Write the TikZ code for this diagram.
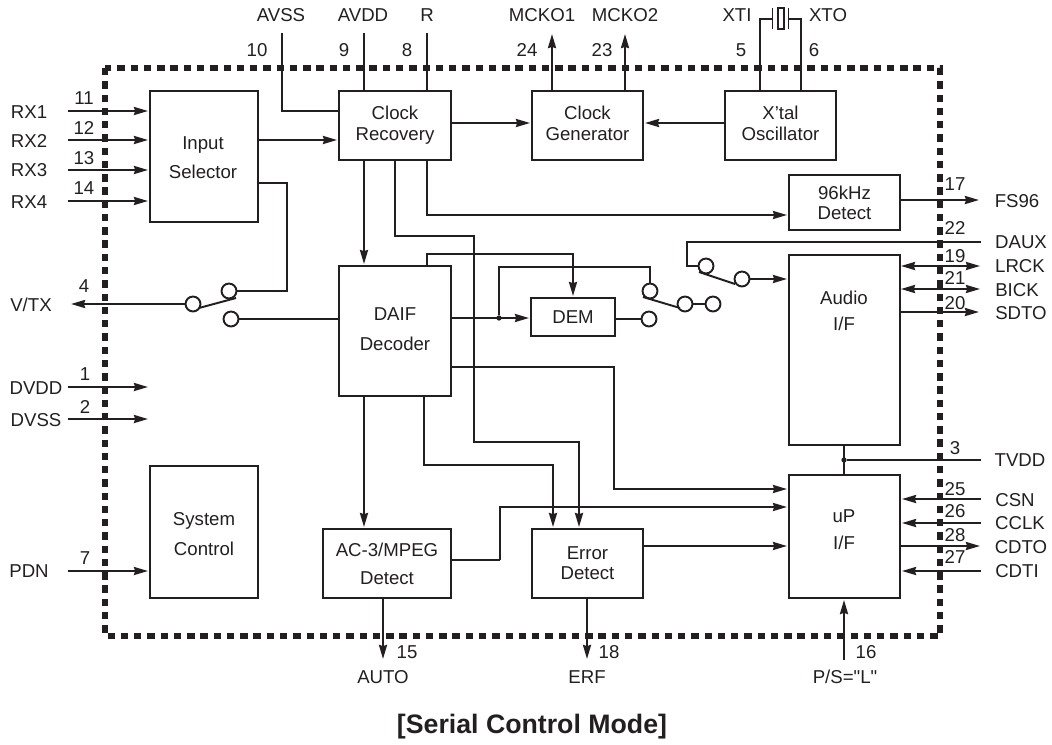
\documentclass[tikz,border=0pt]{standalone}
\usepackage{fontspec}
\setmainfont[Ligatures=TeXOff]{Liberation Sans}
\usetikzlibrary{arrows.meta}
\pgfdeclarelayer{edgelayer}
\pgfdeclarelayer{nodelayer}
\pgfsetlayers{edgelayer,nodelayer,main}
\definecolor{ink}{HTML}{231F20}
\tikzstyle{block}=[rectangle,draw=ink,text=ink,line width=1.1pt,inner sep=0pt,align=center,font=\fontsize{10.6}{11.4}\selectfont]
\tikzstyle{blocktext}=[text=ink,inner sep=0pt,align=center,font=\fontsize{10.6}{11.4}\selectfont]
\tikzstyle{contact}=[circle,draw=ink,line width=1.1pt,minimum size=8.5pt,inner sep=0pt]
\tikzstyle{junction}=[circle,fill=ink,minimum size=3pt,inner sep=0pt]
\tikzstyle{pinname}=[text=ink,inner sep=0pt,text height=7.6pt,text depth=0pt,font=\fontsize{10.6}{12}\selectfont]
\tikzstyle{simple}=[-,draw=ink,line width=1.1pt]
\tikzstyle{arrowed}=[simple,-{Stealth[length=8pt,width=4.6pt,inset=0.7pt]},shorten >=0.6pt]
\tikzstyle{both}=[simple,{Stealth[length=8pt,width=4.6pt,inset=0.7pt]}-{Stealth[length=8pt,width=4.6pt,inset=0.7pt]}]
\tikzstyle{frame}=[draw=ink,line width=2.9pt,dash pattern=on 4.2pt off 3.35pt]

\begin{document}
\begin{tikzpicture}[x=0.2mm,y=-0.2mm]
	\useasboundingbox (0, 0) rectangle (1052, 744);
	\begin{pgfonlayer}{nodelayer}
		\node [style=block, minimum width=21.6mm, minimum height=26.2mm] (selector) at (204, 156.5) {};
		\node [style=blocktext] (selectortext) at (203, 158) {Input\\[5pt]Selector};
		\node [style=block, minimum width=22.4mm, minimum height=13.8mm] (recovery) at (395, 125.5) {Clock\\[0.6pt]Recovery};
		\node [style=block, minimum width=22.2mm, minimum height=13.8mm] (generator) at (587.5, 125.5) {Clock\\[0.6pt]Generator\vphantom{y}};
		\node [style=block, minimum width=22.2mm, minimum height=13.8mm] (xtal) at (780.5, 125.5) {X’tal\\[0.6pt]Oscillator\vphantom{y}};
		\node [style=block, minimum width=22.2mm, minimum height=11mm] (detectfs) at (844.5, 202.5) {96kHz\\Detect};
		\node [style=block, minimum width=22.2mm, minimum height=38mm] (audio) at (844.5, 350) {};
		\node [style=blocktext] (audiotext) at (844, 311) {Audio\\[3.4pt]I/F};
		\node [style=block, minimum width=22.2mm, minimum height=24.6mm] (micro) at (844.5, 536.5) {};
		\node [style=blocktext] (microtext) at (844, 530) {uP\\[4pt]I/F};
		\node [style=block, minimum width=22.4mm, minimum height=26mm] (daif) at (395, 331) {DAIF\\[6.2pt]Decoder\vphantom{y}};
		\node [style=block, minimum width=16.8mm, minimum height=7.6mm] (dem) at (573, 317) {DEM};
		\node [style=block, minimum width=25.6mm, minimum height=13.8mm] (mpeg) at (387, 563.5) {AC-3/MPEG\\[4.5pt]Detect};
		\node [style=block, minimum width=22.2mm, minimum height=13.8mm] (error) at (587.5, 563.5) {Error\\Detect};
		\node [style=block, minimum width=21.6mm, minimum height=26.4mm] (control) at (204, 532) {};
		\node [style=blocktext] (controltext) at (204, 534) {System\\[5.6pt]Control};
		\node [style=contact] (vtxa) at (229, 291) {};
		\node [style=contact] (vtxb) at (193, 304) {};
		\node [style=contact] (vtxc) at (231, 319) {};
		\node [style=contact] (dema) at (650, 291) {};
		\node [style=contact] (demb) at (685, 304) {};
		\node [style=contact] (demc) at (649, 319) {};
		\node [style=contact] (demd) at (713, 304) {};
		\node [style=contact] (auxa) at (706, 266) {};
		\node [style=contact] (auxb) at (742, 279) {};
		\node [style=junction] (tap) at (499, 318) {};
		\node [style=junction] (tvddtap) at (844, 460) {};
		\node [draw=ink, line width=0.9pt, minimum width=1.2mm, minimum height=4.2mm, inner sep=0pt] (crystal) at (781, 18.5) {};
		\node [style=pinname] (tavss) at (281, 15) {AVSS};
		\node [style=pinname] (tavdd) at (363, 15) {AVDD};
		\node [style=pinname] (tr) at (427, 15) {R};
		\node [style=pinname] (tmcko1) at (542, 15) {MCKO1};
		\node [style=pinname] (tmcko2) at (625, 15) {MCKO2};
		\node [style=pinname] (txti) at (737, 15) {XTI};
		\node [style=pinname] (txto) at (828, 15) {XTO};
		\node [style=pinname] (n10) at (257, 50) {10};
		\node [style=pinname] (n9) at (344, 50) {9};
		\node [style=pinname] (n8) at (407, 50) {8};
		\node [style=pinname] (n24) at (527, 50) {24};
		\node [style=pinname] (n23) at (602, 50) {23};
		\node [style=pinname] (n5) at (741, 50) {5};
		\node [style=pinname] (n6) at (814, 50) {6};
		\node [style=pinname] (trx1) at (29, 112) {RX1};
		\node [style=pinname] (trx2) at (29, 141) {RX2};
		\node [style=pinname] (trx3) at (29, 170) {RX3};
		\node [style=pinname] (trx4) at (29, 202) {RX4};
		\node [style=pinname] (n11) at (84, 98) {11};
		\node [style=pinname] (n12) at (84, 128) {12};
		\node [style=pinname] (n13) at (84, 158) {13};
		\node [style=pinname] (n14) at (84, 188) {14};
		\node [style=pinname] (tvtx) at (31, 305) {V/TX};
		\node [style=pinname] (n4) at (84, 286) {4};
		\node [style=pinname] (tdvdd) at (36, 388) {DVDD};
		\node [style=pinname] (tdvss) at (36, 420) {DVSS};
		\node [style=pinname] (n1) at (85, 374) {1};
		\node [style=pinname] (n2) at (85, 407) {2};
		\node [style=pinname] (tpdn) at (29, 571) {PDN};
		\node [style=pinname] (n7) at (85, 558) {7};
		\node [style=pinname] (tfs96) at (1017, 201) {FS96};
		\node [style=pinname] (tdaux) at (1021, 242) {DAUX};
		\node [style=pinname] (tlrck) at (1020, 266) {LRCK};
		\node [style=pinname] (tbick) at (1017, 290) {BICK};
		\node [style=pinname] (tsdto) at (1021, 313) {SDTO};
		\node [style=pinname] (ttvdd) at (1020, 460) {TVDD};
		\node [style=pinname] (tcsn) at (1015, 500) {CSN};
		\node [style=pinname] (tcclk) at (1020, 523) {CCLK};
		\node [style=pinname] (tcdto) at (1021, 547) {CDTO};
		\node [style=pinname] (tcdti) at (1017, 571) {CDTI};
		\node [style=pinname] (n17) at (955, 184) {17};
		\node [style=pinname] (n22) at (955, 228) {22};
		\node [style=pinname] (n19) at (955, 256) {19};
		\node [style=pinname] (n21) at (955, 278) {21};
		\node [style=pinname] (n20) at (955, 303) {20};
		\node [style=pinname] (n3) at (955, 448) {3};
		\node [style=pinname] (n25) at (955, 489) {25};
		\node [style=pinname] (n26) at (955, 511) {26};
		\node [style=pinname] (n28) at (955, 535) {28};
		\node [style=pinname] (n27) at (955, 557) {27};
		\node [style=pinname] (tauto) at (383, 677) {AUTO};
		\node [style=pinname] (terf) at (587, 677) {ERF};
		\node [style=pinname] (tps) at (845, 677) {P/S="L"};
		\node [style=pinname] (n15) at (407, 652) {15};
		\node [style=pinname] (n18) at (609, 652) {18};
		\node [style=pinname] (n16) at (866, 652) {16};
		\node [text=ink, inner sep=0pt, font=\fontsize{15.2}{18}\selectfont\bfseries] (title) at (532, 727) {[Serial Control Mode]};
		\coordinate (avss) at (282, 33);
		\coordinate (avssbend) at (282, 111);
		\coordinate (avdd) at (364, 33);
		\coordinate (rpin) at (427, 33);
		\coordinate (mcko1) at (552, 33);
		\coordinate (mcko2) at (625, 33);
		\coordinate (xti) at (760, 19);
		\coordinate (xto) at (801, 19);
		\coordinate (rx1) at (68, 111);
		\coordinate (rx2) at (68, 140);
		\coordinate (rx3) at (68, 170);
		\coordinate (rx4) at (68, 201);
		\coordinate (vtx) at (70, 304);
		\coordinate (dvdd) at (68, 387);
		\coordinate (dvss) at (68, 419);
		\coordinate (pdn) at (68, 571);
		\coordinate (fs96) at (980, 200);
		\coordinate (daux) at (981, 242);
		\coordinate (lrck) at (980, 266);
		\coordinate (bick) at (980, 289);
		\coordinate (sdto) at (980, 312);
		\coordinate (tvdd) at (981, 460);
		\coordinate (csn) at (981, 499);
		\coordinate (cclk) at (981, 523);
		\coordinate (cdto) at (981, 546);
		\coordinate (cdti) at (981, 571);
		\coordinate (auto) at (383, 660);
		\coordinate (erf) at (587, 660);
		\coordinate (ps) at (844, 660);
		\coordinate (oscout) at (690, 123);
		\coordinate (recout) at (490, 123);
		\coordinate (selbend) at (287, 183);
		\coordinate (recb) at (395, 236);
		\coordinate (recc) at (474, 442);
		\coordinate (recd) at (579, 442);
		\coordinate (rece) at (427, 215);
		\coordinate (daiftop) at (427, 254);
		\coordinate (dembend) at (650, 267);
		\coordinate (auxbend) at (687, 266);
		\coordinate (daifa) at (614, 367);
		\coordinate (daifd) at (700, 489);
		\coordinate (daifb) at (424, 465);
		\coordinate (daifc) at (553, 465);
		\coordinate (mpega) at (500, 560);
		\coordinate (mpegb) at (700, 507);
		\coordinate (errout) at (700, 546);
		\coordinate (bladea) at (199, 308);
		\coordinate (bladeb) at (236, 298);
		\coordinate (bladec) at (643, 297);
		\coordinate (blade) at (680, 308);
		\coordinate (bladee) at (699, 272);
		\coordinate (bladef) at (735, 284);
		\coordinate (plateat) at (772.5, 8);
		\coordinate (plateab) at (772.5, 29);
		\coordinate (platebt) at (788.5, 8);
		\coordinate (platebb) at (788.5, 29);
	\end{pgfonlayer}
	\begin{pgfonlayer}{edgelayer}
		\draw [style=frame] (105, 68) rectangle (940, 636);
		\draw [style=simple] (avss) -- (avssbend) -- (avssbend -| recovery.west);
		\draw [style=simple] (avdd) -- (avdd |- recovery.north);
		\draw [style=simple] (rpin) -- (rpin |- recovery.north);
		\draw [style=arrowed] (mcko1 |- generator.north) -- (mcko1);
		\draw [style=arrowed] (mcko2 |- generator.north) -- (mcko2);
		\draw [style=simple] (xti |- xtal.north) -- (xti) -- (plateat |- xti);
		\draw [style=simple] (xto |- xtal.north) -- (xto) -- (platebt |- xto);
		\draw [style=simple] (plateat) -- (plateab);
		\draw [style=simple] (platebt) -- (platebb);
		\draw [style=arrowed] (rx1) -- (rx1 -| selector.west);
		\draw [style=arrowed] (rx2) -- (rx2 -| selector.west);
		\draw [style=arrowed] (rx3) -- (rx3 -| selector.west);
		\draw [style=arrowed] (rx4) -- (rx4 -| selector.west);
		\draw [style=arrowed] (rx2 -| selector.east) -- (rx2 -| recovery.west);
		\draw [style=arrowed] (recout -| recovery.east) -- (recout -| generator.west);
		\draw [style=arrowed] (oscout -| xtal.west) -- (oscout -| generator.east);
		\draw [style=simple] (selbend -| selector.east) -- (selbend) |- (vtxa);
		\draw [style=arrowed] (vtxb) -- (vtx);
		\draw [style=simple] (bladea) -- (bladeb);
		\draw [style=simple] (vtxc -| daif.west) -- (vtxc);
		\draw [style=arrowed] (dvdd) -- (dvdd -| control.west);
		\draw [style=arrowed] (dvss) -- (dvss -| control.west);
		\draw [style=arrowed] (pdn) -- (pdn -| control.west);
		\draw [style=arrowed] (avdd |- recovery.south) -- (avdd |- daif.north);
		\draw [style=arrowed] (recb |- recovery.south) -- (recb) -| (recc) -| (recd |- error.north);
		\draw [style=arrowed] (rece |- recovery.south) |- (rece -| detectfs.west);
		\draw [style=arrowed] (fs96 -| detectfs.east) -- (fs96);
		\draw [style=arrowed] (daiftop |- daif.north) |- (daiftop -| dem.north) -- (dem.north);
		\draw [style=arrowed] (tap -| daif.east) -- (tap -| dem.west);
		\draw [style=simple] (tap) |- (dembend) -- (dema);
		\draw [style=simple] (bladec) -- (blade);
		\draw [style=simple] (demb) -- (demd);
		\draw [style=simple] (demc -| dem.east) -- (demc);
		\draw [style=simple] (daux) -- (daux -| auxbend) -- (auxbend) -- (auxa);
		\draw [style=simple] (bladee) -- (bladef);
		\draw [style=arrowed] (auxb) -- (auxb -| audio.west);
		\draw [style=both] (lrck -| audio.east) -- (lrck);
		\draw [style=both] (bick -| audio.east) -- (bick);
		\draw [style=arrowed] (sdto -| audio.east) -- (sdto);
		\draw [style=simple] (tvddtap |- audio.south) -- (tvddtap |- micro.north);
		\draw [style=simple] (tvddtap) -- (tvdd);
		\draw [style=arrowed] (csn) -- (csn -| micro.east);
		\draw [style=arrowed] (cclk) -- (cclk -| micro.east);
		\draw [style=arrowed] (cdto -| micro.east) -- (cdto);
		\draw [style=arrowed] (cdti) -- (cdti -| micro.east);
		\draw [style=arrowed] (daifa -| daif.east) -- (daifa) |- (daifd -| micro.west);
		\draw [style=arrowed] (avdd |- daif.south) -- (avdd |- mpeg.north);
		\draw [style=arrowed] (daifb |- daif.south) -- (daifb) -| (daifc |- error.north);
		\draw [style=simple] (mpega -| mpeg.east) -- (mpega);
		\draw [style=arrowed] (mpega) |- (mpegb) -- (mpegb -| micro.west);
		\draw [style=arrowed] (errout -| error.east) -- (errout -| micro.west);
		\draw [style=arrowed] (auto |- mpeg.south) -- (auto);
		\draw [style=arrowed] (erf |- error.south) -- (erf);
		\draw [style=arrowed] (ps) -- (ps |- micro.south);
	\end{pgfonlayer}
\end{tikzpicture}
\end{document}
